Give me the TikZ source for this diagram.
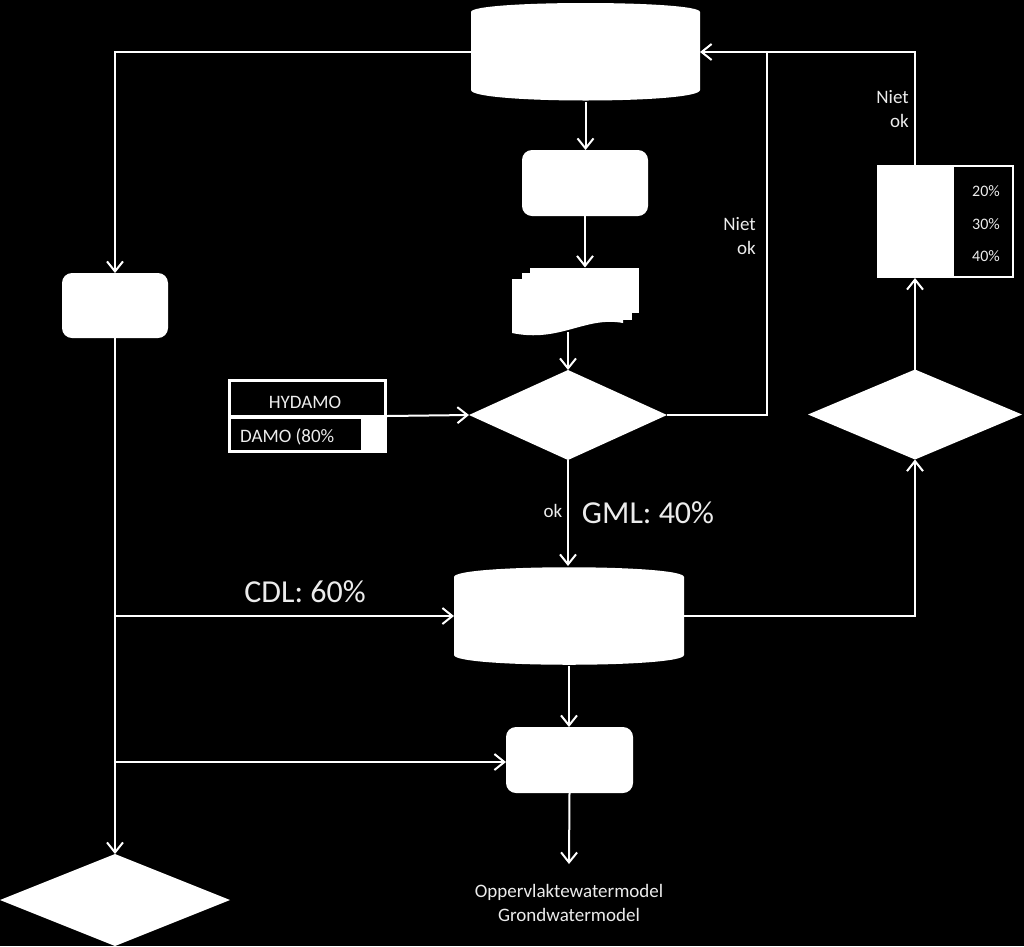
\documentclass[tikz,border=0pt]{standalone}
\usepackage{fontspec}
\setmainfont{Carlito}
\usetikzlibrary{arrows.meta,calc}
\definecolor{txt}{RGB}{236,236,236}
\begin{document}
\begin{tikzpicture}[x=1pt,y=-1pt,
  conn/.style={draw=white, line width=2pt},
  arr/.style={conn, -{Straight Barb[length=10pt,width=16pt,line width=2pt]}},
  anchorbox/.style={inner sep=0pt, outer sep=0pt, draw=none},
  wbox/.style={fill=white, draw=none, inner sep=0pt, outer sep=0pt},
  small/.style={text=txt, font=\fontsize{19}{24}\selectfont, inner sep=0pt},
  tiny/.style={text=txt, font=\fontsize{16}{19}\selectfont, inner sep=0pt},
  big/.style={text=txt, font=\fontsize{32}{38}\selectfont, inner sep=0pt},
]
\fill[black] (0,0) rectangle (1024,946);
\useasboundingbox (0,0) rectangle (1024,946);

% ---------- shapes ----------
% top database
\node[anchorbox, minimum width=229pt, minimum height=100pt] (db1) at (585.5,52) {};
\fill[white] (471,12) .. controls (471,0) and (700,0) .. (700,12)
  -- (700,90) .. controls (700,104) and (471,104) .. (471,90) -- cycle;

% rounded box below it
\node[wbox, rounded corners=10pt, minimum width=126pt, minimum height=66pt] (r1) at (585,183) {};

% document stack
\node[anchorbox, minimum width=127pt, minimum height=67pt] (doc) at (575.5,301) {};
\fill[white] (530,268) rectangle (639,313);
\fill[white] (522,273) rectangle (632,320);
\fill[white] (512,279) -- (623,279) -- (623,323)
  .. controls (585,316) and (560,343) .. (512,333) -- cycle;

% left rounded box
\node[wbox, rounded corners=10pt, minimum width=106pt, minimum height=65pt] (r2) at (115,305.5) {};

% central decision
\node[anchorbox, minimum width=198pt, minimum height=90pt] (d1) at (568,415) {};
\fill[white] (d1.north) -- (d1.east) -- (d1.south) -- (d1.west) -- cycle;

% HYDAMO table
\node[anchorbox, minimum width=159pt, minimum height=74pt] (hy) at (307.5,416) {};
\fill[white] (228,379) rectangle (387,453);
\fill[black] (231,382) rectangle (384,415);
\fill[black] (231,419) rectangle (361,450);
\node[small] (hyt) at (305,402) {HYDAMO};
\node[small, anchor=west] (dat) at (240,437) {DAMO (80\%};

% right decision
\node[anchorbox, minimum width=214pt, minimum height=90pt] (d2) at (915,414.5) {};
\fill[white] (d2.north) -- (d2.east) -- (d2.south) -- (d2.west) -- cycle;

% right box with percentages
\node[wbox, minimum width=75pt, minimum height=113pt] (wb) at (914.5,221.5) {};
\draw[white, line width=2pt] (953,166) rectangle (1013,277);
\node[tiny] (p20) at (986,191) {20\%};
\node[tiny] (p30) at (986,224) {30\%};
\node[tiny] (p40) at (986,256) {40\%};

% bottom database
\node[anchorbox, minimum width=230pt, minimum height=100pt] (db2) at (569,616) {};
\fill[white] (454,577) .. controls (454,564) and (684,564) .. (684,577)
  -- (684,655) .. controls (684,668) and (454,668) .. (454,655) -- cycle;

% bottom rounded box
\node[wbox, rounded corners=10pt, minimum width=127pt, minimum height=66pt] (r3) at (569.5,760) {};

% bottom-left decision
\node[anchorbox, minimum width=230pt, minimum height=92pt] (d3) at (115,900) {};
\fill[white] (d3.north) -- (d3.east) -- (d3.south) -- (d3.west) -- cycle;

% ---------- connectors ----------
\coordinate (j1) at (767,52);
\coordinate (b1) at (115,616);
\coordinate (b2) at (115,762);
\coordinate (out) at (569,864);

\draw[arr] (db1.west) -| (r2.north);
\draw[arr] (db1.south) -- (db1.south |- r1.north);
\draw[arr] (r1.south) -- (r1.south |- doc.north);
\draw[arr] (568,332) -- (d1.north);
\draw[arr] (hy.east) -- (d1.west);
\draw[arr] (d1.east) -| (j1) -- (db1.east);
\draw[conn] (wb.north) |- (j1);
\draw[arr] (d2.north) -- (d2.north |- wb.south);
\draw[arr] (d1.south) -- (d1.south |- db2.north);
\draw[arr] (db2.east) -| (d2.south);
\draw[arr] (r2.south) -- (d3.north);
\draw[arr] (b1) -- (db2.west);
\draw[arr] (b2) -- (b2 -| r3.west);
\draw[arr] (db2.south) -- (db2.south |- r3.north);
\draw[arr] (r3.south) -- (out);

% ---------- labels ----------
\node[small, align=right, anchor=east] (n1) at (756,236) {Niet\\ok};
\node[small, align=right, anchor=east] (n2) at (909,109) {Niet\\ok};
\node[small] (okl) at (553,511) {ok};
\node[big] (gml) at (648,513) {GML: 40\%};
\node[big] (cdl) at (305,592) {CDL: 60\%};
\node[small, align=center] (outt) at (569,903) {Oppervlaktewatermodel\\Grondwatermodel};
\end{tikzpicture}
\end{document}
